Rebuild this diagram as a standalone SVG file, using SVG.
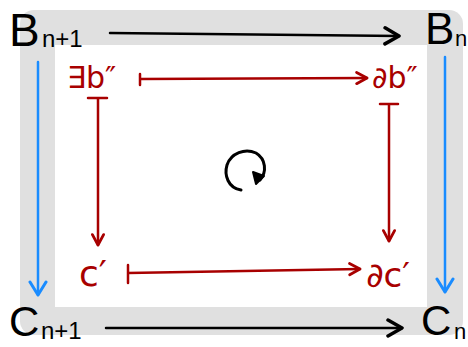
<svg xmlns="http://www.w3.org/2000/svg" width="468" height="347" viewBox="0 0 468 347">
<style>
.lbl{font-family:"Liberation Sans","DejaVu Sans",sans-serif;fill:#000}
.red{font-family:"DejaVu Sans","Liberation Sans",sans-serif;fill:#a80000}
.k{stroke:#000;stroke-width:2.5;fill:none;stroke-linecap:round;stroke-linejoin:round}
.b{stroke:#1a8cff;stroke-width:2.5;fill:none;stroke-linecap:round;stroke-linejoin:round}
.r{stroke:#a80000;stroke-width:2.5;fill:none;stroke-linecap:round;stroke-linejoin:round}
</style>
<defs>
<marker id="mk" viewBox="0 0 20 20" refX="18" refY="10" markerWidth="20" markerHeight="20" markerUnits="userSpaceOnUse" orient="auto">
<path d="M4 2 L18 10 L4 18" stroke="#000" stroke-width="3.5" fill="none" stroke-linecap="round" stroke-linejoin="round"/>
</marker>
<marker id="mb" viewBox="0 0 20 20" refX="18" refY="10" markerWidth="20" markerHeight="20" markerUnits="userSpaceOnUse" orient="auto">
<path d="M5 2 L18 10 L5 18" stroke="#1a8cff" stroke-width="3" fill="none" stroke-linecap="round" stroke-linejoin="round"/>
</marker>
<marker id="mr" viewBox="0 0 20 20" refX="18" refY="10" markerWidth="16" markerHeight="16" markerUnits="userSpaceOnUse" orient="auto">
<path d="M5 3 L18 10 L5 17" stroke="#a80000" stroke-width="3.5" fill="none" stroke-linecap="round" stroke-linejoin="round"/>
</marker>
</defs>
<rect x="20" y="10" width="443" height="325" rx="14" fill="#e0e0e0"/>
<rect x="55" y="45" width="372" height="262" fill="#fff"/>
<g id="connectors">
<path class="k" d="M110 33 L399 36" marker-end="url(#mk)"/>
<path class="k" d="M106 328 L402 328" marker-end="url(#mk)"/>
<path class="b" d="M38 62 L38 295" marker-end="url(#mb)"/>
<path class="b" d="M445 57 L445 292" marker-end="url(#mb)"/>
<path class="r" d="M140 74 L140 85 M140 79 L367 78" marker-end="url(#mr)"/>
<path class="r" d="M128 265 L128 283 M128 273 L360 269" marker-end="url(#mr)"/>
<path class="r" d="M88 98 L107 98 M98 98 L98 245" marker-end="url(#mr)"/>
<path class="r" d="M380 104 L398 104 M389 104 L389 241" marker-end="url(#mr)"/>
<path d="M241 190 C228 188 224 175 227 165 C231 153 245 148 256 153 C266 159 267 172 260 180" stroke="#000" stroke-width="3" fill="none" stroke-linecap="round"/>
<path d="M253 172 L256 184 L264 176 Z" fill="#000" stroke="#000" stroke-width="2" stroke-linejoin="round"/>
</g>
<g id="Bn1"><text class="lbl" x="9" y="46" font-size="46">B</text><text class="lbl" x="42" y="47" font-size="24">n+1</text></g>
<g id="Bn"><text class="lbl" x="425" y="44" font-size="44">B</text><text class="lbl" x="455" y="46" font-size="22">n</text></g>
<g id="Cn1"><text class="lbl" x="9" y="336" font-size="42">C</text><text class="lbl" x="41" y="339" font-size="24">n+1</text></g>
<g id="Cn"><text class="lbl" x="421" y="335" font-size="42">C</text><text class="lbl" x="454" y="339" font-size="22">n</text></g>
<g id="eb"><text class="red" x="67" y="88" font-size="30">∃b″</text></g>
<g id="db"><text class="red" x="372" y="88" font-size="30">∂b″</text></g>
<g id="c"><text class="red" x="79" y="286" font-size="36">c′</text></g>
<g id="dc"><text class="red" x="366" y="287" font-size="34">∂c′</text></g>
</svg>
